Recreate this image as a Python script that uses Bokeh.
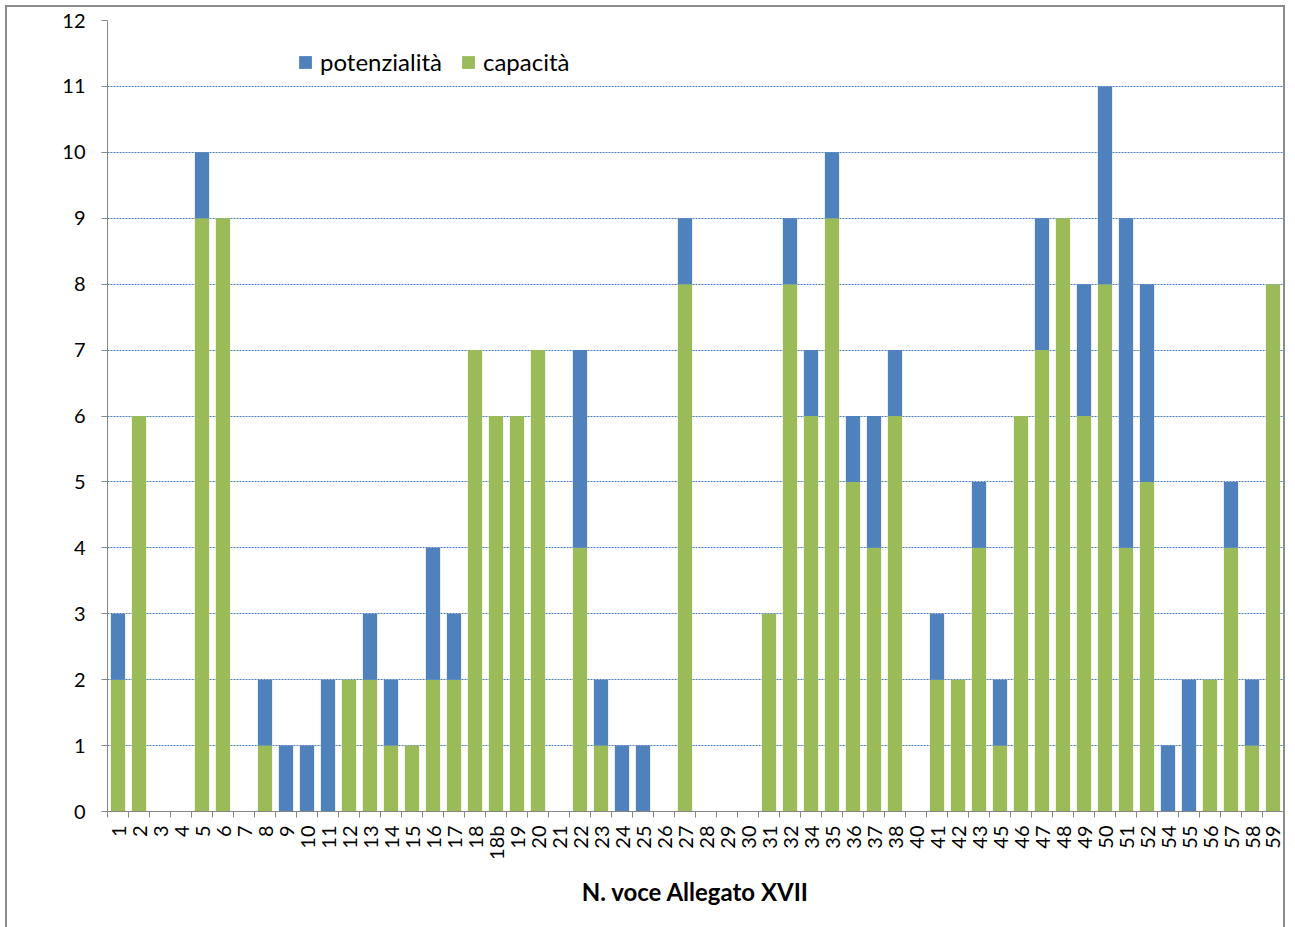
from bokeh.plotting import figure
from bokeh.models import ColumnDataSource, FixedTicker, Legend, LegendItem
from bokeh.embed import file_html
from bokeh.resources import INLINE

# Voci dell'Allegato XVII
voci = ["1", "2", "3", "4", "5", "6", "7", "8", "9", "10", "11", "12", "13",
        "14", "15", "16", "17", "18", "18b", "19", "20", "21", "22", "23", "24",
        "25", "26", "27", "28", "29", "30", "31", "32", "34", "35", "36", "37",
        "38", "40", "41", "42", "43", "45", "46", "47", "48", "49", "50", "51",
        "52", "54", "55", "56", "57", "58", "59"]

capacita = [2, 6, 0, 0, 9, 9, 0, 1, 0, 0, 0, 2, 2,
            1, 1, 2, 2, 7, 6, 6, 7, 0, 4, 1, 0,
            0, 0, 8, 0, 0, 0, 3, 8, 6, 9, 5, 4,
            6, 0, 2, 2, 4, 1, 6, 7, 9, 6, 8, 4,
            5, 0, 0, 2, 4, 1, 8]

potenzialita = [1, 0, 0, 0, 1, 0, 0, 1, 1, 1, 2, 0, 1,
                1, 0, 2, 1, 0, 0, 0, 0, 0, 3, 1, 1,
                1, 0, 1, 0, 0, 0, 0, 1, 1, 1, 1, 2,
                1, 0, 1, 0, 1, 1, 0, 2, 0, 2, 3, 5,
                3, 1, 2, 0, 1, 1, 0]

y_ticks = list(range(0, 13))

FONT = "Lato"
BLUE = "#4f81bd"
GREEN = "#9bbb59"
AXIS_GREY = "#868686"

n = len(voci)
pos = list(range(n))
src = ColumnDataSource(dict(x=pos, capacita=capacita, potenzialita=potenzialita))

p = figure(width=1280, height=925,
           x_range=(-0.5, n - 0.5), y_range=(0, 12),
           output_backend="svg", toolbar_location=None,
           min_border_left=100, min_border_right=4,
           min_border_top=13, min_border_bottom=121)
p.styles = {"margin-left": "5px", "margin-top": "5px",
            "border": "2px solid #8c8c8c"}

p.outline_line_color = None
p.background_fill_color = "white"
p.border_fill_color = "white"

bars = p.vbar_stack(["capacita", "potenzialita"], x="x", width=0.68,
                    color=[GREEN, BLUE], line_color=None, source=src)

# x axis: labels at the bar centres, tick marks between the categories
p.xaxis.ticker = FixedTicker(ticks=pos,
                             minor_ticks=[i - 0.5 for i in range(n + 1)])
p.xaxis.major_label_overrides = {i: v for i, v in enumerate(voci)}
p.xaxis.major_label_orientation = 3.14159265 / 2
p.xaxis.major_tick_line_color = None
p.xaxis.minor_tick_line_color = AXIS_GREY
p.xaxis.minor_tick_out = 6
p.xaxis.minor_tick_in = 0
p.xaxis.axis_line_color = AXIS_GREY
p.xaxis.major_label_standoff = 8
p.xaxis.major_label_text_font = FONT
p.xaxis.major_label_text_font_size = "20px"
p.xaxis.major_label_text_color = "black"
p.xaxis.axis_label = "N. voce Allegato XVII"
p.xaxis.axis_label_text_font = FONT
p.xaxis.axis_label_text_font_style = "bold"
p.xaxis.axis_label_text_font_size = "24px"
p.xaxis.axis_label_text_color = "black"
p.xaxis.axis_label_standoff = 14

# y axis
p.yaxis.ticker = FixedTicker(ticks=y_ticks)
p.yaxis.minor_tick_line_color = None
p.yaxis.major_tick_line_color = AXIS_GREY
p.yaxis.major_tick_out = 6
p.yaxis.major_tick_in = 0
p.yaxis.axis_line_color = AXIS_GREY
p.yaxis.major_label_standoff = 16
p.yaxis.major_label_text_font = FONT
p.yaxis.major_label_text_font_size = "20px"
p.yaxis.major_label_text_color = "black"

p.xgrid.grid_line_color = None
p.ygrid.grid_line_color = "#4a7ebb"
p.ygrid.grid_line_dash = "2 1"
p.ygrid.grid_line_width = 1

legend = Legend(items=[LegendItem(label="potenzialità", renderers=[bars[1]]),
                       LegendItem(label="capacità", renderers=[bars[0]])],
                orientation="horizontal", location=(190, 735),
                padding=0, margin=0, spacing=18, label_standoff=7,
                glyph_width=16, glyph_height=16, label_height=16,
                label_text_font=FONT, label_text_font_size="24px",
                label_text_color="black",
                background_fill_alpha=0, border_line_color=None)
p.add_layout(legend)

open("out.html", "w").write(file_html(p, INLINE))
